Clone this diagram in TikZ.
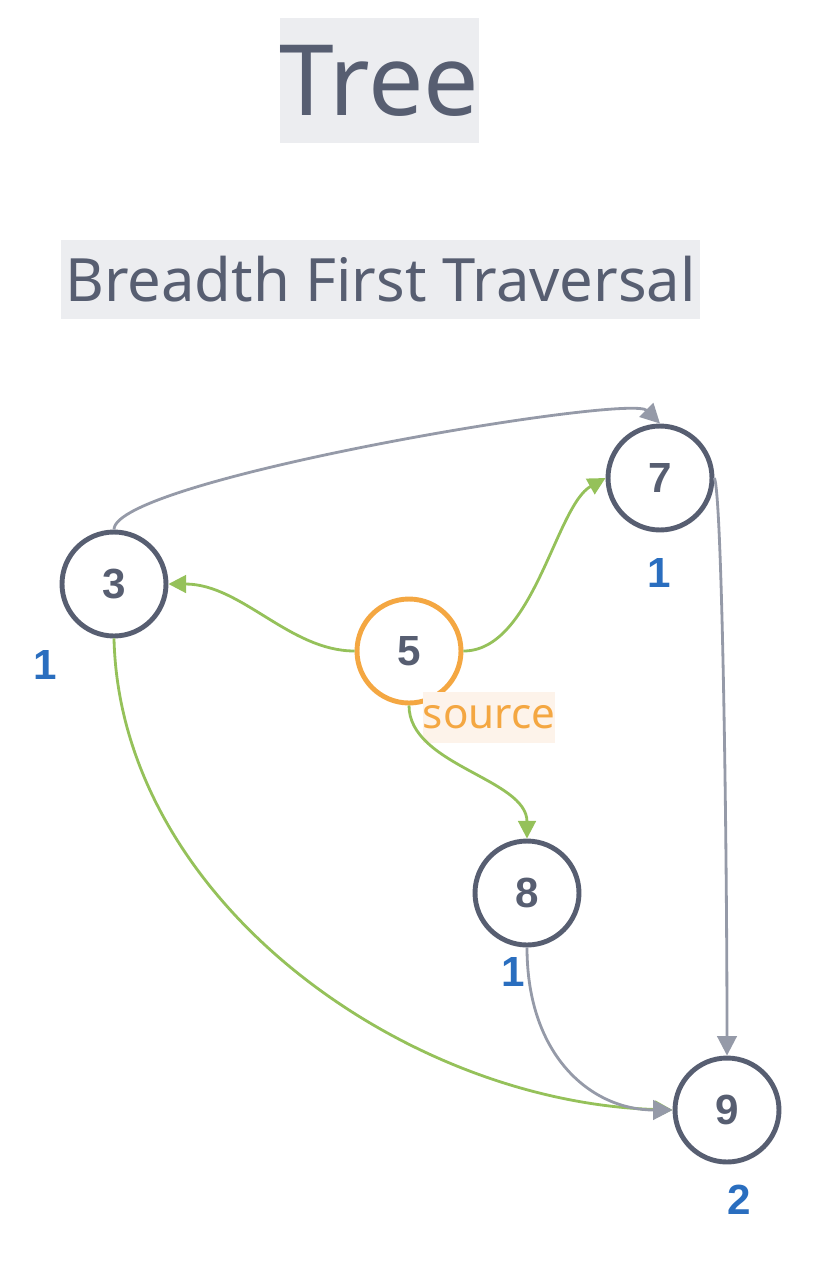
\documentclass[tikz,border=0pt]{standalone}
\usepackage{fontspec}
\setmainfont{Noto Sans}
\newfontfamily\numfont{Liberation Sans}
\usepackage{tikz}
\usetikzlibrary{arrows.meta}

\definecolor{slate}{HTML}{575E71}
\definecolor{edgegray}{HTML}{959AA8}
\definecolor{visitgreen}{HTML}{95C15A}
\definecolor{srcorange}{HTML}{F4A742}
\definecolor{levelblue}{HTML}{2A6EBF}
\definecolor{titlebg}{HTML}{ECEDF0}
\definecolor{srcbg}{HTML}{FDF3EA}

\begin{document}
\begin{tikzpicture}[x=0.02cm,y=-0.02cm,
    vertex/.style={circle,draw=slate,line width=2.8pt,minimum size=2.08cm,
        text=slate,font=\numfont\fontsize{24}{26}\selectfont\bfseries},
    level/.style={text=levelblue,font=\numfont\fontsize{24}{26}\selectfont\bfseries},
    tree edge/.style={visitgreen,line width=1.6pt,-{Triangle[length=10pt,width=10pt]}},
    back edge/.style={edgegray,line width=1.6pt,-{Triangle[length=11pt,width=11pt]}}]
        % Page size of the picture (pixels of the reference):
        \useasboundingbox (0,0) rectangle (826,1282);

        % Headings:
        % Both are nodes with a light gray background
        \node (title) [fill=titlebg,text=slate,inner sep=0pt,minimum width=3.94cm,minimum height=2.5cm,
            font=\fontsize{56}{60}\selectfont] at (379.5,80.5) {Tree};
        \node (subtitle) [fill=titlebg,text=slate,inner sep=0pt,minimum width=12.78cm,minimum height=1.58cm,
            font=\fontsize{34}{38}\selectfont] at (380.5,279.5) {Breadth First Traversal};

        % Vertices:
        \node (n3) [vertex] at (114,584) {3};
        \node (n7) [vertex] at (660,478) {7};
        \node (n5) [vertex,draw=srcorange] at (409,651) {5};
        \node (n8) [vertex] at (527,893) {8};
        \node (n9) [vertex] at (727,1110) {9};

        % Source tag next to the start vertex:
        \node (src) [fill=srcbg,text=srcorange,inner sep=0pt,minimum width=2.64cm,minimum height=1.02cm,
            font=\fontsize{24}{28}\selectfont] at (489,717.5) {source};

        % Levels found by the traversal:
        \foreach \lname/\pos/\lvl in {l3/{(45,665)}/1,l7/{(659,573)}/1,l8/{(513,972)}/1,l9/{(739,1200)}/2}{%
            \node (\lname) [level] at \pos {\lvl};
        }

        % Edges:
        % Green ones are the edges used by the traversal, gray ones are the others
        \draw [tree edge] (n5.west) .. controls +(-65,0) and +(73,0) .. (n3.east);
        \draw [tree edge] (n5.east) .. controls +(70,0) and +(-50,28) .. (n7.west);
        \draw [tree edge] (n5.south) .. controls +(0,60) and +(0,-60) .. (n8.north);
        \draw [tree edge] (n3.south) .. controls +(6,260) and +(-270,-8) .. (n9.west);
        \draw [back edge] (n3.north) .. controls +(0,-50) and +(-30,-30) .. (n7.north);
        \draw [back edge] (n7.east) .. controls +(8,20) and +(0,-200) .. (n9.north);
        \draw [back edge] (n8.south) .. controls +(0,110) and +(-80,0) .. (n9.west);
\end{tikzpicture}
\end{document}
